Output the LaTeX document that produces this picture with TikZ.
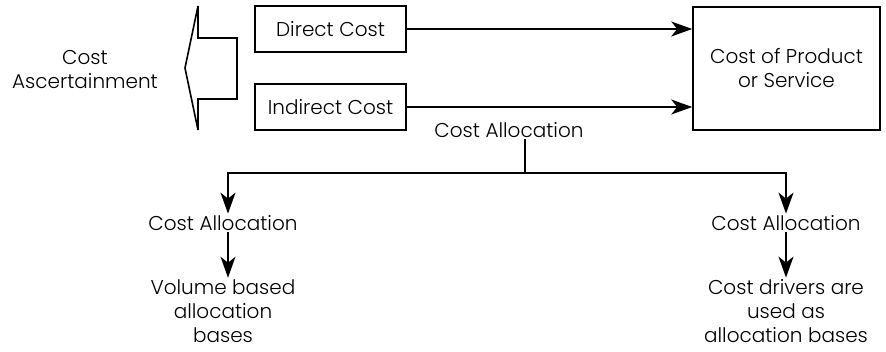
\documentclass[tikz,border=0pt]{standalone}
\usepackage{fontspec}
\setmainfont{Poppins}[UprightFont=* Light]
\usetikzlibrary{positioning,calc,arrows.meta}

\begin{document}
\begin{tikzpicture}[x=1pt, y=-1pt, line width=1.6pt, >={Stealth[length=21pt,width=15pt,inset=6pt]},
		font=\fontsize{20}{24}\selectfont,
		box/.style={draw, minimum width=151pt, minimum height=46pt, inner sep=0pt},
		lbl/.style={align=center, inner sep=1pt}]
		\useasboundingbox (0,0) rectangle (886,351);
		% left block arrow
		\draw[line width=1.6pt, miter limit=4] (185,68) -- (198,6) -- (198,38) -- (237,38) -- (237,99) -- (198,99) -- (198,130) -- cycle;
		\node[lbl] (Ascert) at (85,70) {Cost\\Ascertainment};
		% cost boxes
		\node[box] (Direct) at (330.5,29) {Direct Cost};
		\node[box, line width=2.3pt] (Indirect) at (330.5,107) {Indirect Cost};
		\node[draw, minimum width=187pt, minimum height=123pt, align=center] (Prod) at (786.5,68.5) {Cost of Product\\or Service};
		\draw[->] (Direct.east) -- (Direct.east -| Prod.west);
		\draw[->] (Indirect.east) -- (Indirect.east -| Prod.west);
		% allocation split
		\node[lbl] (Alloc) at (509,130) {Cost Allocation};
		\coordinate (Split) at (525,173);
		\node[lbl] (AllocL) at (223,223) {Cost Allocation};
		\node[lbl] (AllocR) at (786,223) {Cost Allocation};
		\node[lbl] (VolL) at (223,311) {Volume based\\allocation\\bases};
		\node[lbl] (DrvR) at (786,311) {Cost drivers are\\used as\\allocation bases};
		\draw (Alloc.south -| Split) -- (Split);
		\draw[->] (Split) -| ([xshift=5pt]AllocL.north);
		\draw[->] (Split) -| (AllocR.north);
		\draw[->] ([xshift=5pt]AllocL.south) -- ([xshift=5pt]VolL.north);
		\draw[->] (AllocR.south) -- (DrvR.north);
	\end{tikzpicture}
\end{document}
